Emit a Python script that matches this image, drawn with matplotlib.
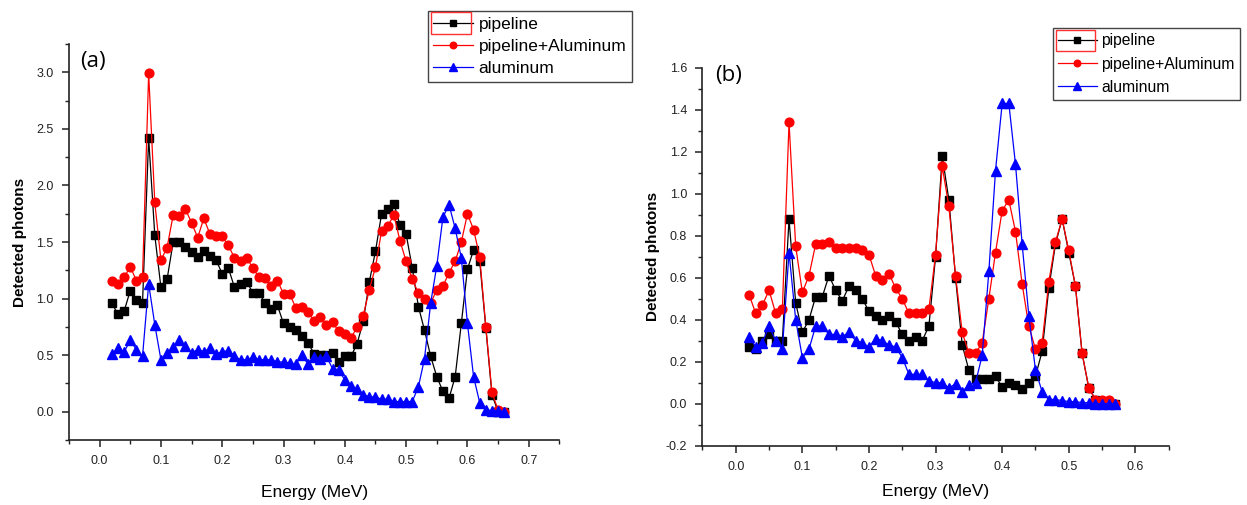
import numpy as np
import matplotlib
matplotlib.use("Agg")
import matplotlib.pyplot as plt
from matplotlib.patches import Rectangle
from matplotlib.ticker import MultipleLocator

plt.rcParams['font.family'] = ['Liberation Sans', 'DejaVu Sans']

# ---- panel (a) data ----
energy_a = np.round(np.arange(0.02, 0.665, 0.01), 2)
pipeline_a = [0.96, 0.86, 0.89, 1.07, 0.99, 0.96, 2.42, 1.56, 1.10, 1.17,
              1.50, 1.50, 1.46, 1.41, 1.37, 1.42, 1.38, 1.34, 1.22, 1.27,
              1.10, 1.13, 1.15, 1.05, 1.05, 0.96, 0.91, 0.94, 0.78, 0.75,
              0.72, 0.67, 0.61, 0.51, 0.50, 0.50, 0.52, 0.44, 0.49, 0.49,
              0.60, 0.80, 1.15, 1.42, 1.75, 1.79, 1.84, 1.65, 1.57, 1.27,
              0.93, 0.72, 0.49, 0.31, 0.18, 0.12, 0.31, 0.78, 1.26, 1.43,
              1.33, 0.74, 0.15, 0.0, 0.0]
pipeline_al_a = [1.16, 1.13, 1.19, 1.28, 1.16, 1.19, 2.99, 1.85, 1.34, 1.45,
                 1.74, 1.73, 1.79, 1.67, 1.54, 1.71, 1.57, 1.55, 1.55, 1.47,
                 1.36, 1.33, 1.36, 1.27, 1.19, 1.18, 1.11, 1.16, 1.04, 1.04,
                 0.92, 0.93, 0.88, 0.80, 0.84, 0.77, 0.79, 0.71, 0.69, 0.65,
                 0.75, 0.85, 1.08, 1.28, 1.60, 1.64, 1.74, 1.51, 1.33, 1.17,
                 1.05, 1.00, 0.96, 1.08, 1.11, 1.23, 1.33, 1.50, 1.75, 1.61,
                 1.37, 0.75, 0.17, 0.015, 0.0]
aluminum_a = [0.51, 0.56, 0.53, 0.63, 0.55, 0.49, 1.13, 0.77, 0.46, 0.52,
              0.57, 0.63, 0.58, 0.52, 0.55, 0.53, 0.56, 0.51, 0.53, 0.54,
              0.49, 0.46, 0.46, 0.48, 0.46, 0.46, 0.46, 0.44, 0.44, 0.43,
              0.42, 0.50, 0.42, 0.48, 0.47, 0.49, 0.38, 0.37, 0.28, 0.23,
              0.20, 0.15, 0.13, 0.13, 0.11, 0.11, 0.09, 0.09, 0.09, 0.09,
              0.22, 0.47, 0.96, 1.29, 1.72, 1.83, 1.62, 1.36, 0.78, 0.31,
              0.08, 0.015, 0.01, 0.01, 0.0]

# ---- panel (b) data ----
energy_b = np.round(np.arange(0.02, 0.575, 0.01), 2)
pipeline_b = [0.27, 0.26, 0.30, 0.33, 0.30, 0.30, 0.88, 0.48, 0.34, 0.40,
              0.51, 0.51, 0.61, 0.54, 0.49, 0.56, 0.54, 0.50, 0.44, 0.42,
              0.40, 0.42, 0.39, 0.33, 0.30, 0.32, 0.30, 0.37, 0.70, 1.18,
              0.97, 0.60, 0.28, 0.16, 0.12, 0.12, 0.12, 0.13, 0.08, 0.10,
              0.09, 0.07, 0.10, 0.13, 0.25, 0.55, 0.76, 0.88, 0.72, 0.56,
              0.24, 0.076, 0.02, 0.01, 0.01, 0.0]
pipeline_al_b = [0.52, 0.43, 0.47, 0.54, 0.43, 0.45, 1.34, 0.75, 0.53, 0.61,
                 0.76, 0.76, 0.77, 0.74, 0.74, 0.74, 0.74, 0.73, 0.71, 0.61,
                 0.59, 0.62, 0.55, 0.50, 0.43, 0.43, 0.43, 0.45, 0.71, 1.13,
                 0.94, 0.61, 0.34, 0.24, 0.24, 0.29, 0.50, 0.72, 0.92, 0.97,
                 0.82, 0.57, 0.37, 0.26, 0.29, 0.58, 0.77, 0.88, 0.73, 0.56,
                 0.24, 0.076, 0.02, 0.02, 0.02, 0.0]
aluminum_b = [0.32, 0.27, 0.29, 0.37, 0.30, 0.26, 0.72, 0.40, 0.22, 0.26,
              0.37, 0.37, 0.33, 0.33, 0.32, 0.34, 0.30, 0.29, 0.27, 0.31,
              0.30, 0.28, 0.27, 0.22, 0.14, 0.14, 0.14, 0.11, 0.10, 0.10,
              0.075, 0.095, 0.057, 0.09, 0.10, 0.23, 0.63, 1.11, 1.43, 1.43,
              1.14, 0.76, 0.42, 0.16, 0.057, 0.02, 0.02, 0.015, 0.01, 0.01,
              0.005, 0.005, 0.0, 0.0, 0.0, 0.0]

labels = ["pipeline", "pipeline+Aluminum", "aluminum"]

fig = plt.figure(figsize=(12.47, 5.05), dpi=100)
ax_a = fig.add_axes([0.0553, 0.1287, 0.3933, 0.7840])
ax_b = fig.add_axes([0.5633, 0.1174, 0.3739, 0.7485])


def draw_panel(ax, x, black, red, blue, xpad, ypad):
    ax.plot(x, black, '-s', color='black', lw=0.9, ms=5.8, label=labels[0])
    ax.plot(x, red, '-o', color='#ff0000', lw=0.9, ms=6.3, label=labels[1])
    ax.plot(x, blue, '-^', color='#0000ff', lw=0.9, ms=6.8, label=labels[2])
    for side in ['top', 'right']:
        ax.spines[side].set_visible(False)
    for side in ['left', 'bottom']:
        ax.spines[side].set_linewidth(1.2)
        ax.spines[side].set_color('#222222')
    ax.tick_params(which='major', direction='out', length=5, width=1.1,
                   labelsize=9, colors='#222222', pad=6)
    ax.tick_params(which='minor', direction='out', length=3, width=1.0,
                   colors='#222222')
    ax.set_xlabel("Energy (MeV)", fontsize=12.5, labelpad=xpad)
    ax.set_ylabel("Detected photons", fontsize=11, fontweight='bold', labelpad=ypad)


draw_panel(ax_a, energy_a, pipeline_a, pipeline_al_a, aluminum_a, 13, 7)
ax_a.set_xlim(-0.05, 0.75)
ax_a.set_ylim(-0.25, 3.25)
ax_a.xaxis.set_minor_locator(MultipleLocator(0.05))
ax_a.yaxis.set_minor_locator(MultipleLocator(0.25))
ax_a.set_xticks(np.arange(0, 0.71, 0.1))
ax_a.set_yticks(np.arange(0, 3.01, 0.5))
ax_a.set_xticklabels([f"{v:.1f}" for v in np.arange(0, 0.71, 0.1)])
ax_a.set_yticklabels([f"{v:.1f}" for v in np.arange(0, 3.01, 0.5)])
ax_a.text(0.022, 0.955, "(a)", transform=ax_a.transAxes, fontsize=16,
          family=['Open Sans', 'DejaVu Sans'], va='center')

draw_panel(ax_b, energy_b, pipeline_b, pipeline_al_b, aluminum_b, 8, 4)
ax_b.set_xlim(-0.05, 0.65)
ax_b.set_ylim(-0.2, 1.6)
ax_b.xaxis.set_minor_locator(MultipleLocator(0.05))
ax_b.yaxis.set_minor_locator(MultipleLocator(0.1))
ax_b.set_xticks(np.arange(0, 0.61, 0.1))
ax_b.set_yticks(np.arange(-0.2, 1.61, 0.2))
ax_b.set_xticklabels([f"{v:.1f}" for v in np.arange(0, 0.61, 0.1)])
ax_b.set_yticklabels([f"{v:.1f}" for v in np.arange(-0.2, 1.61, 0.2)])
ax_b.text(0.028, 0.98, "(b)", transform=ax_b.transAxes, fontsize=16,
          family=['Open Sans', 'DejaVu Sans'], va='center')

# legends placed in figure coordinates
legend_opts = [(ax_a, (427.7 / 1247, 1 - 10.7 / 505), 12.5, 2.3, 0.42),
               (ax_b, (1053 / 1247, 1 - 28.3 / 505), 11.3, 2.45, 0.52)]
for ax, anchor, fsize, hlen, lspace in legend_opts:
    leg = ax.legend(loc='upper left', bbox_to_anchor=anchor,
                    bbox_transform=fig.transFigure, fontsize=fsize,
                    frameon=True, fancybox=False, framealpha=1,
                    edgecolor='#444444', borderpad=0.33, borderaxespad=0,
                    handlelength=hlen, handletextpad=0.3, labelspacing=lspace,
                    markerscale=0.75)
    leg.get_frame().set_linewidth(1.0)

# red selection boxes around first legend handle
fig.patches.append(Rectangle((430.7 / 1247, 1 - 34.3 / 505), 40.3 / 1247, 22 / 505,
                             transform=fig.transFigure, fill=False,
                             edgecolor='#ff3030', lw=1.0))
fig.patches.append(Rectangle((1056 / 1247, 1 - 50.7 / 505), 39 / 1247, 20.7 / 505,
                             transform=fig.transFigure, fill=False,
                             edgecolor='#ff3030', lw=1.0))

fig.savefig("out.png", dpi=100)
